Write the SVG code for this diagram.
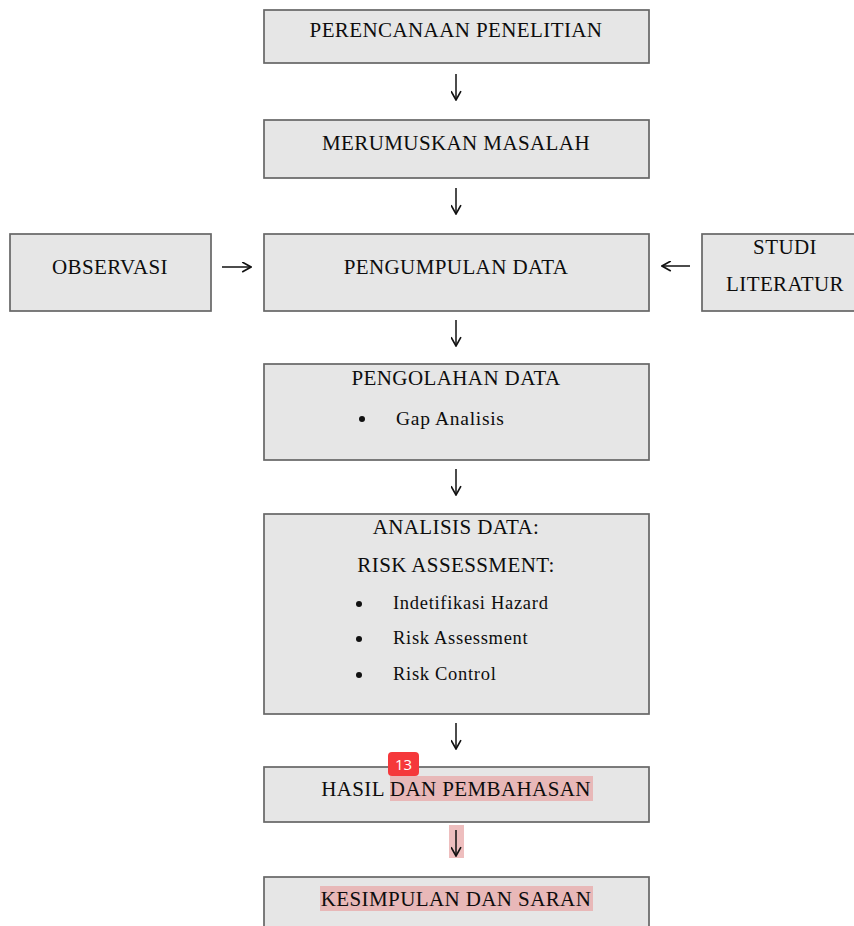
<svg xmlns="http://www.w3.org/2000/svg" width="854" height="926" viewBox="0 0 854 926">
<defs>
<style>
.box{fill:#e6e6e6;stroke:#666666;stroke-width:1.7}
.t{font-family:"Liberation Serif","Times New Roman",serif;font-size:21px;fill:#0d0d0d;text-anchor:middle;letter-spacing:0.4px}
.li{font-family:"Liberation Serif","Times New Roman",serif;font-size:18.5px;fill:#0d0d0d;letter-spacing:0.7px}
.c{fill:none;stroke:#111111;stroke-width:1.5}
.hl{fill:#e8a8a8;opacity:0.75}
</style>
<marker id="ah" viewBox="0 0 10 10" refX="9" refY="5" markerWidth="11" markerHeight="11" markerUnits="userSpaceOnUse" orient="auto">
<path d="M1,0.5 L9,5 L1,9.5" fill="none" stroke="#111111" stroke-width="1.5"/>
</marker>
</defs>
<rect width="854" height="926" fill="#ffffff"/>

<g id="n1"><rect class="box" x="264" y="10" width="385" height="53"/><text class="t" x="456" y="37">PERENCANAAN PENELITIAN</text></g>
<g id="n2"><rect class="box" x="264" y="120" width="385" height="58"/><text class="t" x="456" y="150">MERUMUSKAN MASALAH</text></g>
<g id="n3"><rect class="box" x="264" y="234" width="385" height="77"/><text class="t" x="456" y="274">PENGUMPULAN DATA</text></g>
<g id="obs"><rect class="box" x="10" y="234" width="201" height="77"/><text class="t" x="110" y="274">OBSERVASI</text></g>
<g id="studi"><rect class="box" x="702" y="234" width="160" height="77"/><text class="t" x="785" y="254">STUDI</text><text class="t" x="785" y="291">LITERATUR</text></g>
<g id="n4"><rect class="box" x="264" y="364" width="385" height="96"/><text class="t" x="456" y="385">PENGOLAHAN DATA</text><circle cx="362" cy="419" r="3" fill="#111"/><text class="li" x="396" y="425" style="font-size:19.5px">Gap Analisis</text></g>
<g id="n5"><rect class="box" x="264" y="514" width="385" height="200"/><text class="t" x="456" y="534">ANALISIS DATA:</text><text class="t" x="456" y="572">RISK ASSESSMENT:</text>
<circle cx="359" cy="604" r="3" fill="#111"/><text class="li" x="393" y="609">Indetifikasi Hazard</text>
<circle cx="359" cy="639" r="3" fill="#111"/><text class="li" x="393" y="644">Risk  Assessment</text>
<circle cx="359" cy="675" r="3" fill="#111"/><text class="li" x="393" y="680">Risk Control</text></g>
<g id="n6"><rect class="box" x="264" y="767" width="385" height="55"/><rect class="hl" x="390" y="776" width="203" height="25"/><text class="t" x="456" y="796">HASIL DAN PEMBAHASAN</text>
<rect x="388" y="752" width="31" height="24" rx="4" fill="#f5383b"/><text x="403.5" y="770" font-family="'Open Sans','Noto Sans',sans-serif" font-size="15" fill="#ffffff" text-anchor="middle">13</text></g>
<g id="n7"><rect class="box" x="264" y="877" width="385" height="60"/><rect class="hl" x="320" y="886" width="273" height="25"/><text class="t" x="456" y="906">KESIMPULAN DAN SARAN</text></g>

<g id="connectors">
<rect class="hl" x="449" y="825" width="15" height="33"/>
<path class="c" d="M456,74 V100" marker-end="url(#ah)"/>
<path class="c" d="M456,188 V214" marker-end="url(#ah)"/>
<path class="c" d="M456,320 V346" marker-end="url(#ah)"/>
<path class="c" d="M456,469 V495" marker-end="url(#ah)"/>
<path class="c" d="M456,723 V749" marker-end="url(#ah)"/>
<path class="c" d="M456,830 V856" marker-end="url(#ah)"/>
<path class="c" d="M222,267 H251" marker-end="url(#ah)"/>
<path class="c" d="M690,266 H662" marker-end="url(#ah)"/>
</g>
</svg>
